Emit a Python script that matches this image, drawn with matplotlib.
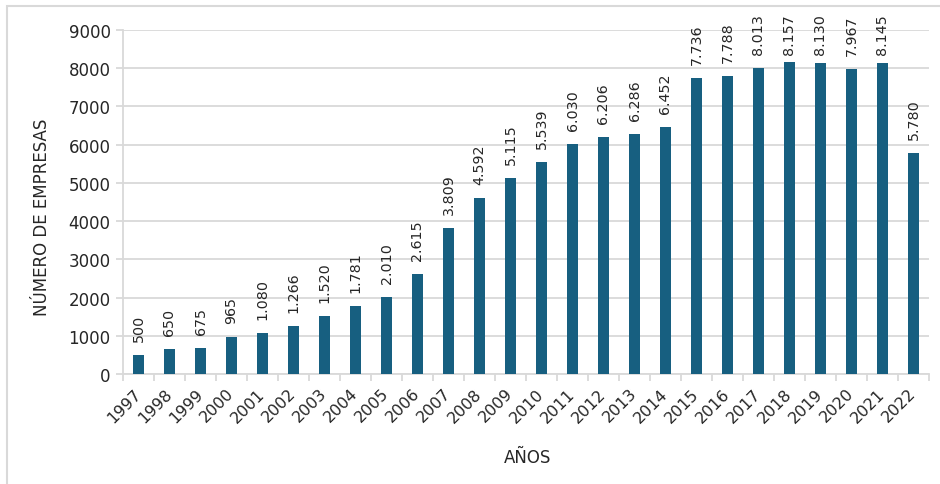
import matplotlib.pyplot as plt
from matplotlib.patches import Rectangle

plt.rcParams['font.family'] = ['DejaVu Sans']

# data
years = [str(y) for y in range(1997, 2023)]
empresas = [500, 650, 675, 965, 1080, 1266, 1520, 1781, 2010, 2615, 3809, 4592, 5115,
            5539, 6030, 6206, 6286, 6452, 7736, 7788, 8013, 8157, 8130, 7967, 8145, 5780]
yticks = [0, 1000, 2000, 3000, 4000, 5000, 6000, 7000, 8000, 9000]

bar_color = '#175f80'
grid_color = '#d9d9d9'
text_color = '#262626'

W, H = 940, 485
fig = plt.figure(figsize=(W / 100, H / 100), dpi=100)
ax = fig.add_axes([123/W, 1 - 375/H, (929-123)/W, (375-31)/H])

x = list(range(len(years)))
ax.bar(x, empresas, width=0.33, color=bar_color, zorder=3)

ax.set_xlim(-0.5, len(years) - 0.5)
ax.set_ylim(0, 9000)

# data labels (dot as thousands separator); pushed down when they would leave the chart
gap_px, lab_len_px, top_limit_px = 14, 41, 14
for xi, v in zip(x, empresas):
    lab = f"{v:,}".replace(",", ".")
    bar_top = H - ax.transData.transform((xi, v))[1]   # pixels from the top
    bottom = max(bar_top - gap_px, top_limit_px + lab_len_px)
    off = (bar_top - bottom) * 72 / 100
    ax.annotate(lab, (xi, v), xytext=(0, off), textcoords='offset points',
                rotation=90, ha='center', va='bottom', fontsize=10.3, color=text_color)

ax.set_yticks(yticks)
ax.set_yticklabels([str(t) for t in yticks], fontsize=12, color=text_color)
ax.grid(axis='y', color=grid_color, linewidth=1.3, zorder=0)

# category labels at centers, tick marks at boundaries
ax.set_xticks(x)
ax.set_xticklabels(years, rotation=45, ha='right', va='center', rotation_mode='anchor',
                   fontsize=11.5, color=text_color)
ax.tick_params(axis='x', which='major', length=0, pad=12)
ax.set_xticks([i + 0.5 for i in range(-1, len(years))], minor=True)
ax.tick_params(axis='x', which='minor', length=5, color=grid_color, width=1.3)
ax.tick_params(axis='y', length=5, color=grid_color, width=1.3, pad=4)

for s in ['top', 'right']:
    ax.spines[s].set_visible(False)
for s in ['left', 'bottom']:
    ax.spines[s].set_color(grid_color)
    ax.spines[s].set_linewidth(1.3)

ax.set_xlabel('AÑOS', fontsize=12, color=text_color)
ax.set_ylabel('NÚMERO DE EMPRESAS', fontsize=12, color=text_color)
ax.xaxis.set_label_coords((528-123)/(929-123), -(458-375)/(375-31))
ax.xaxis.label.set_va('center')
ax.yaxis.set_label_coords(-(123-42)/(929-123), (375-217)/(375-31))
ax.yaxis.label.set_va('center')

# outer frame of the chart area
fig.patches.append(Rectangle((7/W, -0.1), 1.2, 1 - 7/H + 0.1, transform=fig.transFigure,
                             fill=False, edgecolor=grid_color, linewidth=1.5))

fig.savefig('out.png', dpi=100)
